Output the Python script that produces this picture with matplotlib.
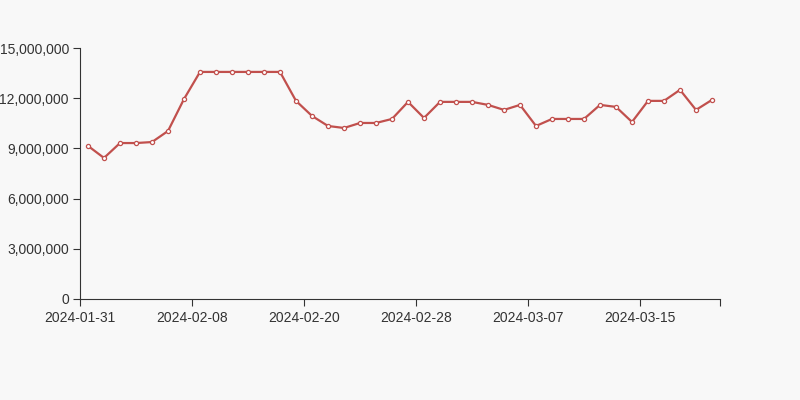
import matplotlib.pyplot as plt
from matplotlib.ticker import FuncFormatter

plt.rcParams['font.family'] = ['Liberation Sans', 'DejaVu Sans']

dates = ['2024-01-31', '2024-02-01', '2024-02-02', '2024-02-04', '2024-02-05', '2024-02-06', '2024-02-07',
         '2024-02-08', '2024-02-09', '2024-02-10', '2024-02-12', '2024-02-13', '2024-02-18', '2024-02-19',
         '2024-02-20', '2024-02-21', '2024-02-22', '2024-02-23', '2024-02-24', '2024-02-26', '2024-02-27',
         '2024-02-28', '2024-02-29', '2024-03-01', '2024-03-02', '2024-03-04', '2024-03-05', '2024-03-06',
         '2024-03-07', '2024-03-08', '2024-03-09', '2024-03-11', '2024-03-12', '2024-03-13', '2024-03-14',
         '2024-03-15', '2024-03-18', '2024-03-19', '2024-03-20', '2024-03-21']
values = [9.15, 8.43, 9.32, 9.32, 9.38, 10.04, 11.95,
          13.57, 13.57, 13.57, 13.57, 13.57, 13.57, 11.84,
          10.94, 10.34, 10.22, 10.52, 10.52, 10.76, 11.78,
          10.82, 11.78, 11.78, 11.78, 11.6, 11.3, 11.6,
          10.34, 10.76, 10.76, 10.76, 11.6, 11.48, 10.58,
          11.84, 11.84, 12.5, 11.3, 11.9]
values = [v * 1e6 for v in values]

bg = '#f8f8f8'
fig = plt.figure(figsize=(8, 4), dpi=100, facecolor=bg)
ax = fig.add_axes([0.1, 0.2525, 0.8, 0.6275], facecolor=bg)
x = range(len(values))
ax.plot(x, values, color='#c1504d', lw=1.6, marker='o', ms=3, mfc='white', mec='#c1504d', mew=0.9, zorder=3)

ax.set_xlim(-0.5, len(values) - 0.5)
ax.set_ylim(0, 15e6)
ax.set_yticks([0, 3e6, 6e6, 9e6, 12e6, 15e6])
ax.yaxis.set_major_formatter(FuncFormatter(lambda v, p: f'{int(v):,}'))
ticks = list(range(0, len(values), 7))
ax.set_xticks([t - 0.5 for t in ticks] + [len(values) - 0.5])
ax.set_xticklabels([dates[t] for t in ticks] + [''])

for s in ['top', 'right']:
    ax.spines[s].set_visible(False)
for s in ['left', 'bottom']:
    ax.spines[s].set_color('#333333')
ax.tick_params(colors='#333333', labelsize=10, length=5)
ax.tick_params(axis='y', pad=3)

fig.savefig('out.png', facecolor=bg)
